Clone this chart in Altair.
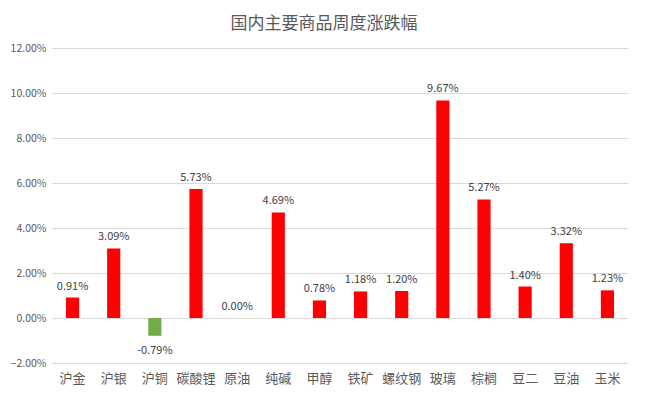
import altair as alt
import pandas as pd

categories = ["沪金", "沪银", "沪铜", "碳酸锂", "原油", "纯碱", "甲醇", "铁矿", "螺纹钢", "玻璃", "棕榈", "豆二", "豆油", "玉米"]
values = [0.91, 3.09, -0.79, 5.73, 0.00, 4.69, 0.78, 1.18, 1.20, 9.67, 5.27, 1.40, 3.32, 1.23]

df = pd.DataFrame({"cat": categories, "v": [v / 100 for v in values]})
df["label"] = [f"{v:.2f}%" for v in values]

FONT = "Noto Sans CJK SC"

x = alt.X("cat:N", sort=categories, title=None,
          scale=alt.Scale(paddingInner=0.68, paddingOuter=0.34),
          axis=alt.Axis(labelAngle=0, domain=False, ticks=False, labelPadding=9,
                        labelFont=FONT, labelFontSize=13, labelColor="#595959"))
y = alt.Y("v:Q", title=None,
          scale=alt.Scale(domain=[-0.02, 0.12], nice=False),
          axis=alt.Axis(values=[-0.02, 0, 0.02, 0.04, 0.06, 0.08, 0.10, 0.12], format=".2%",
                        domain=False, ticks=False, labelPadding=6, gridColor="#d9d9d9",
                        labelFont=FONT, labelFontSize=10.5, labelColor="#595959"))

base = alt.Chart(df)
bars = base.mark_bar().encode(
    x=x, y=y,
    color=alt.condition("datum.v < 0", alt.value("#70AD47"), alt.value("#FF0000")),
)
pos = base.transform_filter("datum.v >= 0").mark_text(
    dy=-11, font=FONT, fontSize=11, color="#404040"
).encode(x=alt.X("cat:N", sort=categories), y="v:Q", text="label:N")
neg = base.transform_filter("datum.v < 0").mark_text(
    dy=15, font=FONT, fontSize=11, color="#404040"
).encode(x=alt.X("cat:N", sort=categories), y="v:Q", text="label:N")

chart = (bars + pos + neg).properties(
    width=576, height=315,
    autosize=alt.AutoSizeParams(type="none"),
    padding={"left": 44, "top": 40, "right": 10, "bottom": 30},
    title=alt.TitleParams("国内主要商品周度涨跌幅", font=FONT, fontSize=17, fontWeight="normal",
                          color="#595959", anchor="middle", frame="group", offset=10, dx=-16),
).configure_view(stroke=None)

chart.save("out.html", embed_options={"renderer": "svg", "actions": False})
